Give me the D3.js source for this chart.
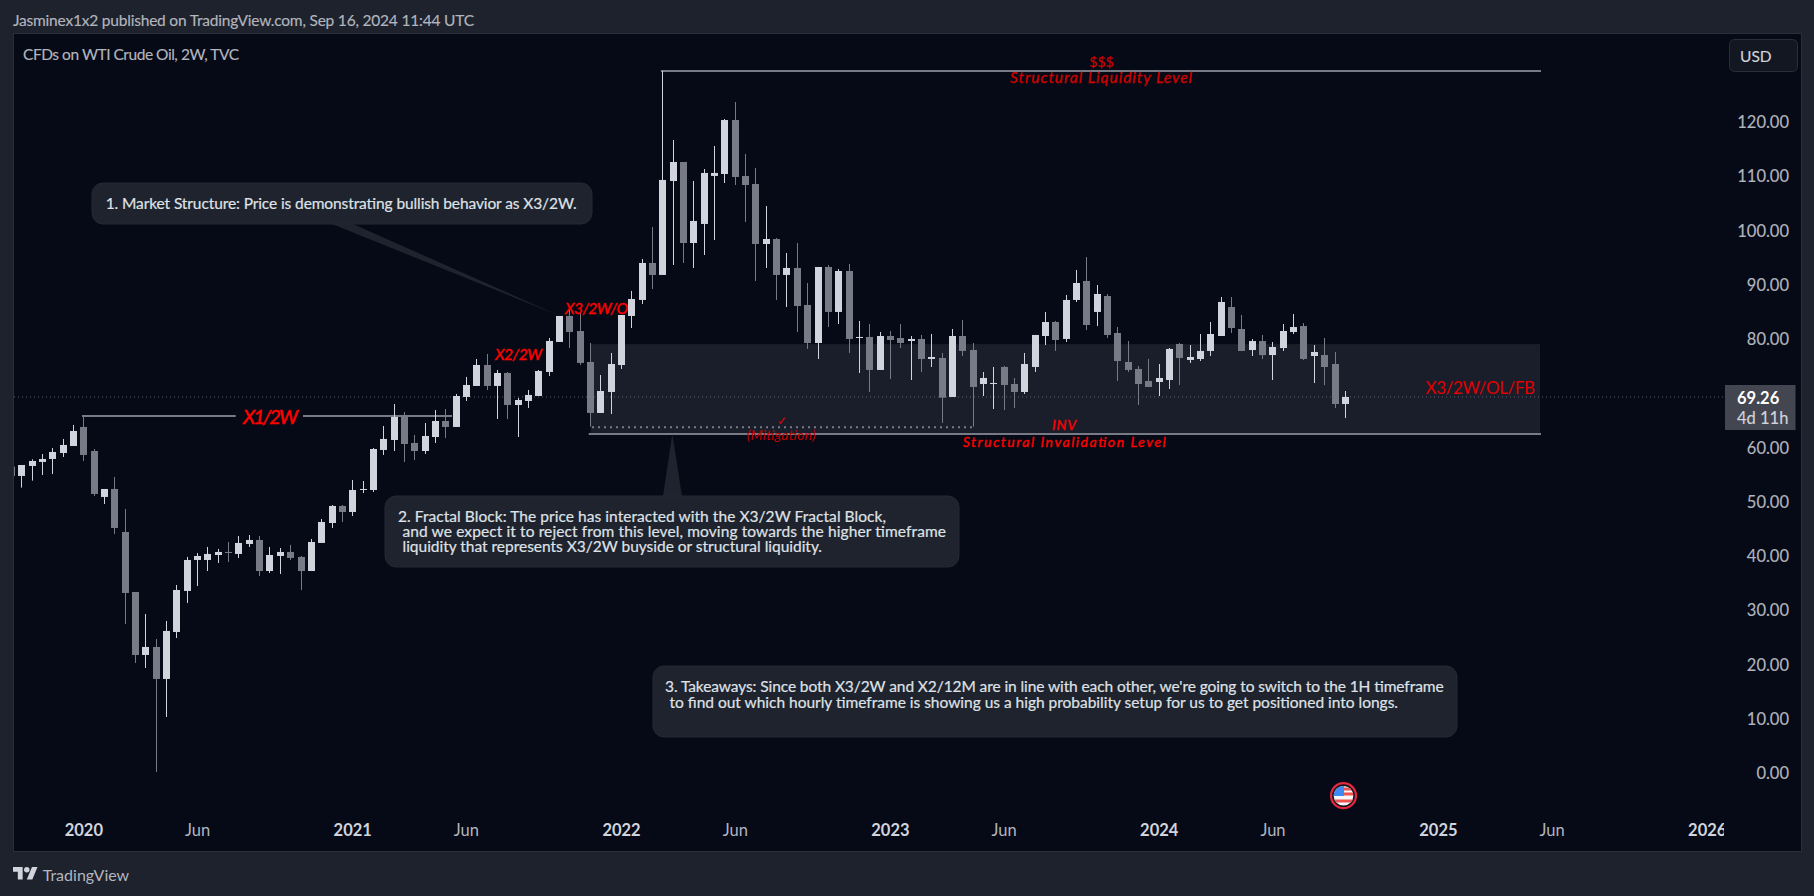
<!DOCTYPE html>
<html>
<head>
<meta charset="utf-8">
<script src="https://cdn.jsdelivr.net/npm/d3@7"></script>
<style>
    html, body { margin: 0; padding: 0; background: #1e222d; overflow: hidden; }
    svg { display: block; }
    text { font-family: Lato, "Noto Sans", sans-serif; }
</style>
</head>
<body>
<svg id="chart" width="1814" height="896"></svg>
<script>
// 2W candles. First bar is 23 Sep 2019, one bar every 14 days.
const firstBar = new Date(Date.UTC(2019, 8, 23));

const opens = [56.42,
    54.70,56.54,57.28,57.83,58.93,60.22,63.73,59.30,50.83,52.30,
    44.37,33.31,21.70,23.18,17.28,25.94,33.50,39.21,39.21,40.13,
    40.69,40.32,42.16,42.90,37.18,39.95,40.69,39.77,37.18,42.35,
    46.03,49.17,48.06,52.11,52.11,59.49,61.33,65.75,60.78,59.30,
    61.88,64.83,63.73,69.26,71.29,75.16,71.29,73.68,67.78,68.52,
    69.44,73.87,79.40,84.19,81.42,75.71,66.31,70.18,75.15,84.19,
    87.14,93.96,91.75,109.07,112.57,97.64,101.15,110.00,110.36,120.31,
    109.99,108.52,97.46,98.38,91.75,93.04,86.22,79.21,93.22,84.93,
    92.48,80.13,80.32,74.24,80.50,80.13,79.58,79.95,76.26,76.45,
    69.26,80.50,77.92,71.65,71.65,74.79,71.65,70.18,74.79,80.50,
    83.08,79.95,87.14,90.64,84.93,87.87,81.05,75.71,74.42,72.21,
    72.02,72.39,79.03,76.08,76.26,77.74,80.50,85.84,81.79,77.91,
    79.57,76.99,78.28,81.23,82.34,76.81,76.99,75.33,67.96];

const highs = [56.42,
    56.72,57.77,58.75,59.86,61.52,64.10,65.75,59.67,52.30,54.51,
    48.61,33.31,29.26,24.65,27.97,34.60,39.77,40.50,41.61,41.24,
    42.53,43.64,43.82,43.64,41.61,41.42,41.98,39.95,43.08,46.77,
    49.35,49.35,53.96,53.77,59.86,63.91,67.97,66.49,62.25,64.46,
    66.86,67.04,69.81,72.95,76.26,77.18,74.24,73.87,69.07,70.55,
    74.24,80.13,84.19,85.30,84.70,79.21,73.31,77.37,84.37,88.80,
    94.69,100.59,129.35,116.63,112.57,109.07,111.28,115.52,120.50,123.63,
    114.05,111.47,104.46,98.57,95.80,97.64,90.27,93.22,93.59,92.85,
    93.77,83.27,82.71,81.24,81.42,82.71,80.50,80.69,80.87,77.37,
    81.79,83.45,79.21,73.87,74.79,74.97,72.76,77.37,80.69,84.93,
    83.27,88.06,92.67,95.06,89.90,88.24,82.16,79.58,74.97,76.26,
    75.34,78.29,79.21,78.84,80.87,83.08,87.69,87.68,84.37,79.94,
    80.68,79.39,82.71,84.55,82.89,78.84,80.13,77.55,70.36];

const lows = [54.70,
    52.55,53.84,54.88,55.06,58.20,60.22,57.46,51.01,49.53,44.00,
    27.42,20.23,19.31,0.14,10.27,24.83,31.29,34.42,37.18,38.66,
    38.84,39.58,41.61,36.26,36.82,36.63,39.21,33.68,37.18,42.35,
    45.11,46.22,47.32,51.56,51.75,58.57,59.30,57.28,57.64,58.75,
    60.78,61.70,63.73,68.52,71.29,70.55,65.20,65.20,61.88,67.23,
    69.44,73.13,79.40,78.29,75.15,63.80,66.31,66.12,74.42,81.98,
    86.40,89.16,91.75,93.59,93.96,93.04,95.43,98.20,108.70,108.33,
    101.51,90.64,93.04,87.14,85.85,81.24,78.11,76.26,82.16,82.71,
    77.37,73.68,70.18,74.24,72.58,78.29,72.39,73.87,74.79,64.47,
    69.26,76.82,63.79,69.44,67.05,66.86,67.23,69.81,73.87,78.84,
    77.74,79.40,86.77,81.61,82.35,80.13,72.21,73.87,67.78,71.10,
    69.44,70.73,71.47,75.53,75.89,76.82,80.50,81.05,77.73,76.81,
    76.26,72.38,77.73,80.86,76.07,71.83,71.46,67.22,65.38];

const closes = [54.70,
    56.72,57.46,57.83,59.12,60.41,62.99,58.57,51.38,52.30,45.11,
    33.13,21.70,23.18,17.28,26.13,33.68,39.21,39.95,40.32,40.69,
    40.50,42.35,42.90,37.18,40.13,40.69,39.58,37.18,42.53,46.22,
    49.17,48.06,52.11,52.30,59.67,61.52,65.57,60.59,59.30,62.07,
    64.83,63.73,69.44,71.47,75.16,71.29,73.68,67.78,68.70,69.63,
    74.05,79.58,84.19,81.24,75.53,66.31,70.36,75.34,84.37,87.32,
    93.96,91.75,109.26,112.57,97.64,101.70,110.55,110.55,120.31,109.81,
    108.33,97.46,98.38,91.75,93.04,86.03,79.21,93.22,84.93,92.48,
    79.95,80.32,74.24,80.50,79.76,79.21,79.95,76.26,76.63,69.13,
    80.50,77.74,71.10,72.76,71.84,71.47,70.18,75.34,80.69,83.08,
    79.76,87.14,90.27,82.53,88.24,80.69,75.89,74.24,71.65,71.10,
    72.76,78.11,76.45,76.63,77.74,80.87,86.77,81.97,77.73,79.57,
    76.99,78.47,81.42,82.15,76.26,77.55,74.78,67.96,69.26];

const priceTicks = [120, 110, 100, 90, 80, 60, 50, 40, 30, 20, 10, 0];
const timeTicks = ["2019-12-30", "2020-06-01", "2020-12-28", "2021-05-31", "2021-12-27", "2022-05-30",
    "2022-12-26", "2023-05-29", "2023-12-25", "2024-05-27", "2025-01-06", "2025-06-09", "2026-01-05"];
const timeLabels = ["2020", "Jun", "2021", "Jun", "2022", "Jun", "2023", "Jun", "2024", "Jun", "2025", "Jun", "2026"];

// levels on the chart, in price
const lastPrice = 69.26;
const swingHigh = 65.75;
const liquidityLevel = 129.35;
const invalidationLevel = 62.43;
const blockTop = 79.0;
const mitigationLevel = 63.7;

const noteOne = ["1. Market Structure: Price is demonstrating bullish behavior as X3/2W."];
const noteTwo = ["2. Fractal Block: The price has interacted with the X3/2W Fractal Block,",
    "and we expect it to reject from this level, moving towards the higher timeframe",
    "liquidity that represents X3/2W buyside or structural liquidity."];
const noteThree = ["3. Takeaways: Since both X3/2W and X2/12M are in line with each other, we're going to switch to the 1H timeframe",
    "to find out which hourly timeframe is showing us a high probability setup for us to get positioned into longs."];

const colors = {
    outer: "#1e222d", border: "#2a2e39", pane: "#060a16", block: "#1a1e2a",
    up: "#d1d4dc", down: "#787b86", text: "#b2b5be", note: "#1f232e", red: "#ff0000"
};

const barTime = i => d3.utcDay.offset(firstBar, 14 * i);
const barDates = opens.map((d, i) => barTime(i));

const x = d3.scaleUtc()
    .domain([firstBar, barDates[barDates.length - 1]])
    .range([10.99, 1344.85]);
const y = d3.scaleLinear().domain([0, 120]).range([772.7, 121.7]);

const svg = d3.select("#chart");

svg.append("rect").attr("width", 1814).attr("height", 896).attr("fill", colors.outer);
svg.append("rect")
    .attr("x", 13.5).attr("y", 33.5).attr("width", 1788).attr("height", 818)
    .attr("fill", colors.pane).attr("stroke", colors.border);

const defs = svg.append("defs");
defs.append("clipPath").attr("id", "paneClip")
    .append("rect").attr("x", 14).attr("y", 34).attr("width", 1710).attr("height", 817);
defs.append("clipPath").attr("id", "flagClip")
    .append("circle").attr("cx", 1343.5).attr("cy", 795.7).attr("r", 9.8);

function addText(parent, str, px, py, opts = {}) {
    const t = parent.append("text")
        .attr("x", px).attr("y", py)
        .attr("dominant-baseline", "central")
        .attr("font-size", opts.size || 15)
        .attr("fill", opts.fill || colors.text)
        .attr("text-anchor", opts.anchor || "start")
        .text(str);
    if (opts.italic) t.attr("font-style", "italic");
    if (opts.weight) t.attr("font-weight", opts.weight);
    if (opts.width) t.attr("textLength", opts.width).attr("lengthAdjust", "spacing");
    // the reference's type is a bit heavier than Lato regular
    if (opts.heavy) t.attr("stroke", opts.fill || colors.text).attr("stroke-width", opts.heavy);
    return t;
}

addText(svg, "Jasminex1x2 published on TradingView.com, Sep 16, 2024 11:44 UTC", 13, 20, {size: 15.5, width: 461, heavy: 0.15});
addText(svg, "CFDs on WTI Crude Oil, 2W, TVC", 23, 53.5, {size: 15.5, width: 216, heavy: 0.15});

const plot = svg.append("g").attr("clip-path", "url(#paneClip)");

// fractal block sits behind the candles
plot.append("rect")
    .attr("x", 590.7).attr("width", 1540 - 590.7)
    .attr("y", y(blockTop)).attr("height", y(invalidationLevel) - y(blockTop))
    .attr("fill", colors.block);

plot.append("line")
    .attr("x1", 14).attr("x2", 1724)
    .attr("y1", y(lastPrice)).attr("y2", y(lastPrice))
    .attr("stroke", "#5d606b").attr("stroke-dasharray", "1 3");

// level lines
const levelLine = (x1, x2, price) => plot.append("line")
    .attr("x1", x1).attr("x2", x2).attr("y1", y(price)).attr("y2", y(price))
    .attr("stroke", colors.down).attr("stroke-width", 2);

levelLine(82, 235.7, swingHigh);
levelLine(303, 452, swingHigh);
levelLine(x(barDates[63]) - 1.5, 1541, liquidityLevel);
levelLine(588.7, 1541, invalidationLevel);

plot.append("line")
    .attr("x1", 592).attr("x2", 972)
    .attr("y1", y(mitigationLevel)).attr("y2", y(mitigationLevel))
    .attr("stroke", colors.down).attr("stroke-width", 2).attr("stroke-dasharray", "2 4");

// candles
const candle = plot.selectAll("g.candle")
    .data(barDates)
    .join("g")
    .attr("class", "candle")
    .attr("fill", (d, i) => closes[i] >= opens[i] ? colors.up : colors.down);

candle.append("rect")
    .attr("x", d => Math.round(x(d)))
    .attr("width", 1)
    .attr("y", (d, i) => y(highs[i]))
    .attr("height", (d, i) => y(lows[i]) - y(highs[i]));

candle.append("rect")
    .attr("x", d => Math.round(x(d)) - 3)
    .attr("width", 7)
    .attr("y", (d, i) => y(Math.max(opens[i], closes[i])))
    .attr("height", (d, i) => Math.max(1, Math.abs(y(opens[i]) - y(closes[i]))));

// callouts
function addNote(lines, box, tip, textX, textY, lineHeight, widths) {
    svg.append("path")
        .attr("d", d3.line()(tip) + "Z")
        .attr("fill", colors.note);
    svg.append("rect")
        .attr("x", box[0]).attr("y", box[1]).attr("width", box[2]).attr("height", box[3])
        .attr("rx", 11).attr("fill", colors.note).attr("stroke", "#252934");
    lines.forEach((line, i) => {
        addText(svg, line, textX[i], textY + i * lineHeight, {size: 15.5, fill: "#dfe1e6", width: widths[i], heavy: 0.2});
    });
}

addNote(noteOne, [92, 183, 500, 41], [[332, 224], [353, 224], [560, 316]], [105.7], 202.7, 0, [471]);
addNote(noteTwo, [385, 496, 574, 71], [[663, 496], [682, 496], [672.3, 434]], [398, 402.5, 402.5], 516, 15.2, [488, 543.5, 419.5]);
addNote(noteThree, [653, 666, 804, 71], [[653, 666], [653, 666], [653, 666]], [665, 669.6], 685.7, 16, [778.6, 728.4]);

// red chart labels
const labels = svg.append("g");
addText(labels, "X1/2W", 243, 416, {size: 20, fill: colors.red, italic: true, width: 55, heavy: 0.5});
addText(labels, "X2/2W", 495, 354, {size: 15.5, fill: colors.red, italic: true, width: 47, heavy: 0.4});
addText(labels, "X3/2W/O", 565, 308, {size: 15.5, fill: colors.red, italic: true, width: 63, heavy: 0.4});
addText(labels, "$$$", 1101.5, 61, {size: 14, fill: "#d00000", anchor: "middle", heavy: 0.2});
addText(labels, "Structural Liquidity Level", 1010, 76.7, {size: 15.5, fill: "#d00000", italic: true, width: 182, heavy: 0.3});
addText(labels, "INV", 1052, 424.5, {size: 14, fill: colors.red, italic: true, width: 24, heavy: 0.3});
addText(labels, "Structural Invalidation Level", 962.7, 441.5, {size: 14, fill: colors.red, italic: true, width: 203, heavy: 0.35});
addText(labels, "✓", 782, 420, {size: 12, fill: "#e00000", anchor: "middle"});
addText(labels, "(Mitigation)", 746.7, 434.5, {size: 14, fill: "#c00000", italic: true, width: 69});
addText(labels, "X3/2W/OL/FB", 1425.5, 387.7, {size: 17, fill: "#e00000", width: 109.5});

// axes
const priceAxis = svg.append("g")
    .attr("transform", "translate(1789,0.7)")
    .call(d3.axisLeft(y).tickValues(priceTicks).tickFormat(d3.format(".2f")).tickSize(0).tickPadding(0));
priceAxis.select(".domain").remove();
priceAxis.selectAll("text")
    .attr("font-size", 16.5).attr("fill", colors.text)
    .attr("stroke", colors.text).attr("stroke-width", 0.15)
    .style("font-family", "Lato");

const timeAxis = svg.append("g")
    .attr("clip-path", "url(#paneClip)")
    .append("g")
    .attr("transform", "translate(0,824.5)")
    .call(d3.axisBottom(x)
        .tickValues(timeTicks.map(d => new Date(d + "T00:00:00Z")))
        .tickFormat((d, i) => timeLabels[i])
        .tickSize(0).tickPadding(0));
timeAxis.select(".domain").remove();
timeAxis.selectAll("text")
    .attr("font-size", 16.5)
    .attr("fill", (d, i) => i % 2 === 0 ? "#d1d4dc" : colors.text)
    .attr("font-weight", (d, i) => i % 2 === 0 ? 700 : 400)
    .style("font-family", "Lato");

// USD button
svg.append("rect")
    .attr("x", 1729.5).attr("y", 39.5).attr("width", 68).attr("height", 32).attr("rx", 5)
    .attr("fill", "#131722").attr("stroke", colors.border);
addText(svg, "USD", 1740, 55.5, {size: 15.5, fill: "#d1d4dc", heavy: 0.15});

// last price tag
svg.append("rect")
    .attr("x", 1725).attr("y", 385).attr("width", 70.5).attr("height", 45).attr("fill", "#434651");
addText(svg, "69.26", 1737, 397.5, {size: 16.5, fill: "#ffffff", weight: 700});
addText(svg, "4d 11h", 1737, 418, {size: 16.5, fill: "#d1d4dc", heavy: 0.15});

// flag marker
const flag = svg.append("g");
flag.append("circle").attr("cx", 1343.5).attr("cy", 795.7).attr("r", 12.5)
    .attr("fill", "#131722").attr("stroke", "#e5263c").attr("stroke-width", 2.2);
const flagBody = flag.append("g").attr("clip-path", "url(#flagClip)");
flagBody.append("rect").attr("x", 1333).attr("y", 785).attr("width", 21).attr("height", 21).attr("fill", "#f7f7f7");
[787.5, 792.5, 799.5].forEach(sy => {
    flagBody.append("rect").attr("x", 1333).attr("y", sy).attr("width", 21).attr("height", 3).attr("fill", "#ef5350");
});
flagBody.append("rect").attr("x", 1333).attr("y", 785).attr("width", 11).attr("height", 11).attr("fill", "#3d8bf2");

// TradingView logo
svg.append("g")
    .attr("transform", "translate(13,864.2) scale(0.69)")
    .attr("fill", "#d1d4dc")
    .call(g => {
        g.append("path").attr("d", "M14 22H7V11H0V4h14v18zM28 22h-8l7.5-18h8L28 22z");
        g.append("circle").attr("cx", 20).attr("cy", 8).attr("r", 4);
    });
addText(svg, "TradingView", 42.7, 874, {size: 16, fill: colors.text, width: 86.5});
</script>
</body>
</html>
